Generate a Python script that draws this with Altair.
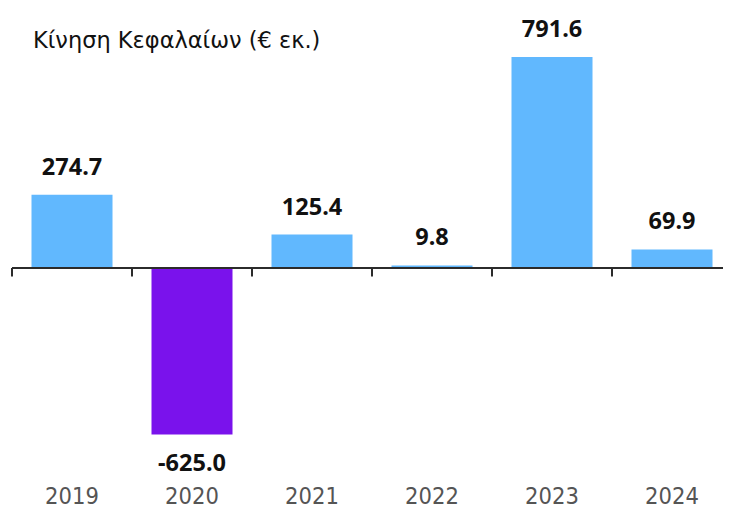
import altair as alt
import pandas as pd

years = ["2019", "2020", "2021", "2022", "2023", "2024"]
values = [274.7, -625.0, 125.4, 9.8, 791.6, 69.9]
labels = ["274.7", "-625.0", "125.4", "9.8", "791.6", "69.9"]
bar_colors = ["#61B8FE", "#7A12EC", "#61B8FE", "#61B8FE", "#61B8FE", "#61B8FE"]
title_text = "Κίνηση Κεφαλαίων (€ εκ.)"

df = pd.DataFrame({"year": years, "value": values, "label": labels, "color": bar_colors})

W, H = 711, 473
ydom = [-799, 975.4]

x_scale = alt.Scale(range=[0, 720], paddingInner=0.325, paddingOuter=0.1625)
x_enc = alt.X("year:N", sort=years, scale=x_scale,
              axis=alt.Axis(title=None, domain=False, ticks=False, labelAngle=0, labelPadding=3,
                            labelFontSize=23.5, labelColor="#555555",
                            labelFont="Liberation Sans Narrow, DejaVu Sans Condensed, sans-serif"))
y_scale = alt.Scale(domain=ydom, nice=False, zero=False)
y_enc = alt.Y("value:Q", scale=y_scale, axis=None)

base = alt.Chart(df)

bars = base.mark_bar().encode(
    x=x_enc,
    y=y_enc,
    y2=alt.datum(0),
    color=alt.Color("color:N", scale=None),
)

pos_labels = base.transform_filter("datum.value >= 0").mark_text(
    baseline="bottom", dy=-15, fontSize=23.5, fontWeight="bold", color="#111111",
    font="Noto Sans").encode(x=alt.X("year:N", sort=years), y=alt.Y("value:Q", scale=y_scale), text="label:N")

neg_labels = base.transform_filter("datum.value < 0").mark_text(
    baseline="top", dy=17, fontSize=23.5, fontWeight="bold", color="#111111",
    font="Noto Sans").encode(x=alt.X("year:N", sort=years), y=alt.Y("value:Q", scale=y_scale), text="label:N")

zero_line = base.mark_rule(color="#2b2b2b", strokeWidth=2).encode(
    y=alt.datum(0), x=alt.value(0), x2=alt.value(720))

ticks = base.mark_rule(color="#2b2b2b", strokeWidth=2, xOffset=-19.5).encode(
    x=alt.X("year:N", sort=years, bandPosition=0),
    y=alt.datum(0), y2=alt.datum(-32))

title = base.transform_filter("datum.year == '2019'").mark_text(
    align="left", baseline="middle", fontSize=22.5, color="#111111", font="DejaVu Sans",
    text=title_text).encode(x=alt.value(21), y=alt.value(33))

chart = alt.layer(bars, zero_line, ticks, pos_labels, neg_labels, title).properties(
    width=W, height=H, padding={"left": 4, "top": 0, "right": 0, "bottom": 30},
    autosize=alt.AutoSizeParams(type="none")
).configure_view(stroke=None)

chart.save("out.html", embed_options={"renderer": "svg", "actions": False})
